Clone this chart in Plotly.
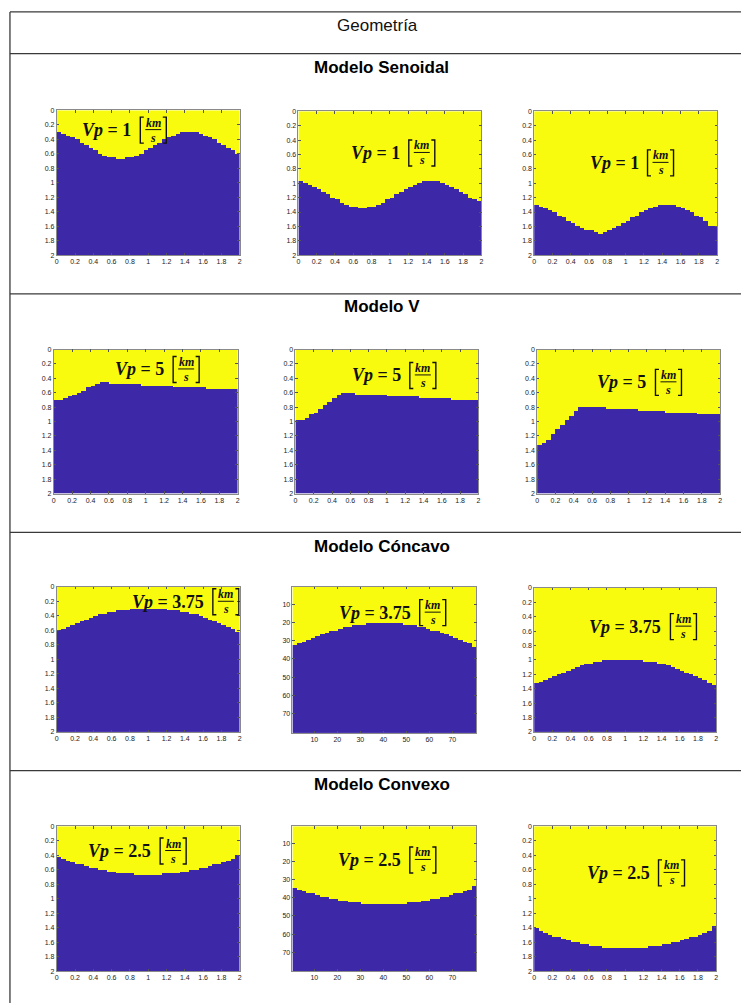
import plotly.graph_objects as go

W, H = 743, 1006

# Interface depth (top of the lower layer) for each of 40 columns, x = 0..2 km
senoidal_a = [.30, .325, .35, .375, .40, .45, .475, .525, .55, .60, .625, .65, .65, .675, .675, .65, .65, .625, .60, .55,
              .525, .475, .45, .40, .375, .35, .325, .30, .30, .30, .30, .325, .35, .375, .40, .45, .475, .525, .55, .60]
senoidal_b = [.975, 1.0, 1.025, 1.05, 1.075, 1.125, 1.15, 1.2, 1.225, 1.275, 1.3, 1.325, 1.325, 1.35, 1.35, 1.325, 1.325, 1.3, 1.275, 1.225,
              1.2, 1.15, 1.125, 1.075, 1.05, 1.025, 1.0, .975, .975, .975, .975, 1.0, 1.025, 1.05, 1.075, 1.125, 1.15, 1.2, 1.225, 1.25]
senoidal_c = [1.3, 1.325, 1.35, 1.375, 1.4, 1.45, 1.475, 1.525, 1.55, 1.6, 1.625, 1.65, 1.65, 1.675, 1.7, 1.675, 1.65, 1.625, 1.6, 1.55,
              1.525, 1.475, 1.45, 1.4, 1.375, 1.35, 1.325, 1.3, 1.3, 1.3, 1.3, 1.325, 1.35, 1.375, 1.4, 1.45, 1.475, 1.525, 1.6, 1.6]

v_a = [.70, .70, .675, .65, .625, .60, .575, .525, .50, .475, .45, .45, .475, .475, .475, .475, .475, .475, .475, .50,
       .50, .50, .50, .50, .50, .50, .525, .525, .525, .525, .525, .525, .525, .55, .55, .55, .55, .55, .55, .55]
v_b = [.975, .975, .95, .90, .875, .825, .775, .725, .675, .625, .60, .60, .60, .625, .625, .625, .625, .625, .625, .625,
       .65, .65, .65, .65, .65, .65, .65, .675, .675, .675, .675, .675, .675, .675, .70, .70, .70, .70, .70, .70]
v_c = [1.325, 1.3, 1.25, 1.175, 1.1, 1.05, .975, .925, .85, .80, .80, .80, .80, .80, .80, .825, .825, .825, .825, .825,
       .825, .825, .85, .85, .85, .85, .85, .85, .875, .875, .875, .875, .875, .875, .875, .90, .90, .90, .90, .90]

concavo_a = [.60, .575, .55, .525, .50, .475, .45, .425, .40, .375, .375, .35, .35, .325, .325, .325, .30, .30, .30, .30,
             .30, .30, .30, .30, .325, .325, .325, .35, .35, .375, .375, .40, .425, .45, .475, .50, .525, .55, .575, .625]
# middle model is indexed in grid cells (1..80)
concavo_b = [33, 32, 31, 30, 29, 28, 27, 26, 25, 25, 24, 23, 23, 22, 22, 22, 21, 21, 21, 21,
             21, 21, 21, 21, 22, 22, 22, 23, 23, 24, 25, 25, 26, 27, 28, 29, 30, 31, 32, 34]
concavo_c = [1.325, 1.3, 1.275, 1.25, 1.225, 1.2, 1.175, 1.15, 1.125, 1.1, 1.075, 1.05, 1.05, 1.025, 1.025, 1.0, 1.0, 1.0, 1.0, 1.0,
             1.0, 1.0, 1.0, 1.0, 1.025, 1.025, 1.025, 1.05, 1.05, 1.075, 1.1, 1.125, 1.15, 1.175, 1.2, 1.225, 1.25, 1.275, 1.325, 1.35]

convexo_a = [.425, .45, .475, .50, .525, .525, .55, .575, .575, .60, .60, .625, .625, .65, .65, .65, .65, .675, .675, .675,
             .675, .675, .675, .65, .65, .65, .65, .625, .625, .60, .60, .575, .575, .55, .525, .525, .50, .475, .45, .40]
convexo_b = [35, 36, 37, 38, 38, 39, 40, 40, 41, 41, 42, 42, 43, 43, 43, 44, 44, 44, 44, 44,
             44, 44, 44, 44, 44, 43, 43, 43, 42, 42, 41, 41, 40, 40, 39, 38, 38, 37, 36, 34]
convexo_c = [1.4, 1.45, 1.475, 1.5, 1.525, 1.525, 1.55, 1.575, 1.6, 1.6, 1.625, 1.625, 1.65, 1.65, 1.65, 1.675, 1.675, 1.675, 1.675, 1.675,
             1.675, 1.675, 1.675, 1.675, 1.675, 1.65, 1.65, 1.65, 1.625, 1.625, 1.6, 1.6, 1.575, 1.55, 1.525, 1.525, 1.5, 1.475, 1.45, 1.375]

section_titles = ["Modelo Senoidal", "Modelo V", "Modelo Cóncavo", "Modelo Convexo"]
velocities = ["1", "5", "3.75", "2.5"]
header = "Geometría"

km_ticks = [0, 0.2, 0.4, 0.6, 0.8, 1, 1.2, 1.4, 1.6, 1.8, 2]
km_tick_text = ["0", "0.2", "0.4", "0.6", "0.8", "1", "1.2", "1.4", "1.6", "1.8", "2"]
cell_ticks = [10, 20, 30, 40, 50, 60, 70]

models = [
    (senoidal_a, "km"), (senoidal_b, "km"), (senoidal_c, "km"),
    (v_a, "km"), (v_b, "km"), (v_c, "km"),
    (concavo_a, "km"), (concavo_b, "cell"), (concavo_c, "km"),
    (convexo_a, "km"), (convexo_b, "cell"), (convexo_c, "km"),
]

# plot-area boxes in page pixels: x0, x1, y0, y1
boxes = [
    (55, 239, 107, 253), (298, 482, 108, 253), (535, 719, 108, 253),
    (52, 237, 348, 493), (295, 479, 348, 493), (538, 722, 348, 493),
    (55, 239, 587, 733), (292, 477, 587, 734), (535, 718, 588, 733),
    (55, 239, 828, 974), (292, 477, 828, 974), (535, 718, 828, 974),
]
# label anchor (right edge of "Vp = ..", vertical centre) in each panel's data units
label_pos = [
    (0.837, 0.274), (1.13, 0.579), (1.163, 0.717),
    (1.222, 0.276), (1.174, 0.359), (1.217, 0.455),
    (1.63, 0.205), (52.8, 14.6), (1.421, 0.538),
    (1.054, 0.342), (48.5, 19.1), (1.29, 0.644),
]

YELLOW = "#f9fb0e"
BLUE = "#3d28a8"
INK = "#111111"

fig = go.Figure()
shapes = []
annotations = []

for p, (depth, unit) in enumerate(models):
    suffix = "" if p == 0 else str(p + 1)
    xa, ya = "x" + suffix, "y" + suffix
    ncol = len(depth)
    if unit == "km":
        xc = [0.025 + 0.05 * i for i in range(ncol)]
        yc = [0.0125 + 0.025 * k for k in range(80)]
        z = [[1 if yv > d - 1e-9 else 0 for d in depth] for yv in yc]
        xr, yr = [0, 2], [2, 0]
        tv, tt = km_ticks, km_tick_text
        xtv, xtt = km_ticks, km_tick_text
    else:
        xc = [1.5 + 2 * i for i in range(ncol)]
        yc = list(range(1, 81))
        z = [[1 if yv >= d else 0 for d in depth] for yv in yc]
        xr, yr = [0.5, 80.5], [80.5, 0.5]
        tv, tt = cell_ticks, [str(t) for t in cell_ticks]
        xtv, xtt = cell_ticks, [str(t) for t in cell_ticks]

    fig.add_trace(go.Heatmap(
        x=xc, y=yc, z=z, zmin=0, zmax=1,
        colorscale=[[0, YELLOW], [1, BLUE]], showscale=False,
        xaxis=xa, yaxis=ya, hoverinfo="skip",
    ))

    x0, x1, y0, y1 = boxes[p]
    axis_common = dict(
        showgrid=False, zeroline=False, showline=True, linecolor="#8a8a8a", linewidth=0.7,
        mirror="ticks", ticks="inside", ticklen=2.5, tickwidth=0.6, tickcolor="#555",
        tickfont=dict(family="Liberation Sans", size=7, color="#222"),
    )
    fig.update_layout(**{
        "xaxis" + suffix: dict(domain=[x0 / W, x1 / W], range=xr, anchor=ya,
                                tickvals=xtv, ticktext=xtt, **axis_common),
        "yaxis" + suffix: dict(domain=[1 - y1 / H, 1 - y0 / H], range=yr, anchor=xa,
                                tickvals=tv, ticktext=tt, **axis_common),
    })

    # velocity label: "Vp = N [km/s]"
    lx, ly = label_pos[p]
    vel = velocities[p // 3]
    annotations.append(dict(
        x=lx, y=ly, xref=xa, yref=ya, xanchor="right", yanchor="middle",
        text="<b><i>Vp</i> = " + vel + "</b>", showarrow=False,
        font=dict(family="Liberation Serif", size=18, color=INK),
    ))
    for txt, dy in (("km", 7.5), ("s", -7.5)):
        annotations.append(dict(
            x=lx, y=ly, xref=xa, yref=ya, xanchor="center", yanchor="middle",
            xshift=20, yshift=dy, text="<b><i>" + txt + "</i></b>", showarrow=False,
            font=dict(family="Liberation Serif", size=12, color=INK),
        ))
    pix = dict(xref=xa, yref=ya, xsizemode="pixel", ysizemode="pixel",
               xanchor=lx, yanchor=ly, line=dict(color=INK, width=1.4))
    shapes.append(dict(type="path", path="M 10.5,13 L 7,13 L 7,-13 L 10.5,-13", **pix))
    shapes.append(dict(type="path", path="M 29.5,13 L 33,13 L 33,-13 L 29.5,-13", **pix))
    shapes.append(dict(type="path", path="M 12,0.5 L 28,0.5", **dict(pix, line=dict(color=INK, width=1))))

# table frame
LINE = dict(color="#3a3a3a", width=1.3)
left_px, top_px = 8, 8
shapes.append(dict(type="line", xref="paper", yref="paper", x0=left_px / W, x1=left_px / W,
                   y0=0, y1=1 - top_px / H, line=LINE))
for yy in (top_px, 50, 292, 532, 772):
    shapes.append(dict(type="line", xref="paper", yref="paper", x0=left_px / W, x1=1,
                       y0=1 - yy / H, y1=1 - yy / H, line=LINE))

annotations.append(dict(x=378 / W, y=1 - 22 / H, xref="paper", yref="paper", text=header,
                        showarrow=False, xanchor="center", yanchor="middle",
                        font=dict(family="Liberation Sans", size=17, color="#111")))
for title, yy in zip(section_titles, (64, 305, 546, 786)):
    annotations.append(dict(x=382 / W, y=1 - yy / H, xref="paper", yref="paper",
                            text="<b>" + title + "</b>", showarrow=False,
                            xanchor="center", yanchor="middle",
                            font=dict(family="Liberation Sans", size=17, color="#000")))

fig.update_layout(
    width=W, height=H, margin=dict(l=0, r=0, t=0, b=0),
    paper_bgcolor="white", plot_bgcolor="white", showlegend=False,
    shapes=shapes, annotations=annotations,
)

fig.write_html("out.html")
